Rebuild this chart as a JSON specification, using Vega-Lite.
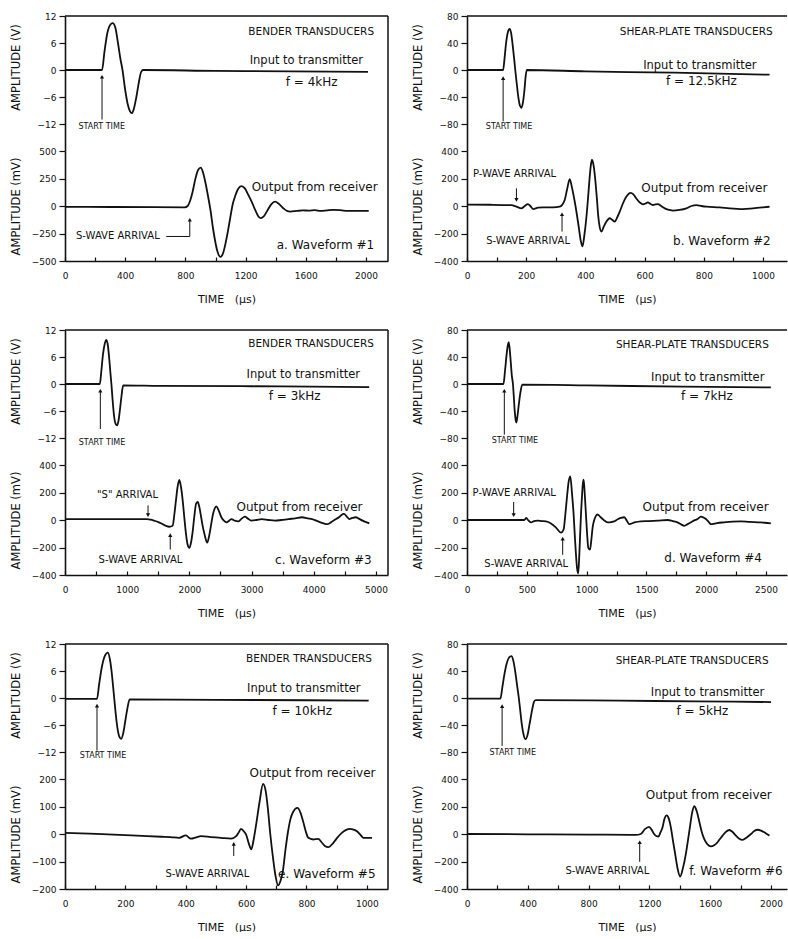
{
"$schema":"https://vega.github.io/schema/vega-lite/v6.json",
"background":"white",
"padding":{"left":9,"top":12,"right":0,"bottom":0},
"datasets":{
"wave":[
{"p":"a","s":"in","t":0,"v":0},{"p":"a","s":"in","t":246,"v":0},{"p":"a","s":"in","t":262,"v":4},{"p":"a","s":"in","t":280,"v":8},{"p":"a","s":"in","t":300,"v":10},{"p":"a","s":"in","t":317,"v":10.4},{"p":"a","s":"in","t":334,"v":9.5},{"p":"a","s":"in","t":352,"v":6},{"p":"a","s":"in","t":368,"v":2.5},{"p":"a","s":"in","t":382,"v":0},{"p":"a","s":"in","t":398,"v":-4},{"p":"a","s":"in","t":416,"v":-7.5},{"p":"a","s":"in","t":432,"v":-9.2},{"p":"a","s":"in","t":443,"v":-9.6},{"p":"a","s":"in","t":456,"v":-8.8},{"p":"a","s":"in","t":474,"v":-6},{"p":"a","s":"in","t":492,"v":-2.5},{"p":"a","s":"in","t":505,"v":-0.5},{"p":"a","s":"in","t":518,"v":0},{"p":"a","s":"in","t":1000,"v":-0.2},{"p":"a","s":"in","t":1500,"v":-0.3},{"p":"a","s":"in","t":2013,"v":-0.4},
{"p":"a","s":"out","t":0,"v":-8},{"p":"a","s":"out","t":300,"v":-9},{"p":"a","s":"out","t":600,"v":-10},{"p":"a","s":"out","t":795,"v":-12},{"p":"a","s":"out","t":815,"v":0},{"p":"a","s":"out","t":829,"v":39},{"p":"a","s":"out","t":848,"v":130},{"p":"a","s":"out","t":865,"v":240},{"p":"a","s":"out","t":885,"v":330},{"p":"a","s":"out","t":902,"v":349},{"p":"a","s":"out","t":918,"v":300},{"p":"a","s":"out","t":935,"v":200},{"p":"a","s":"out","t":951,"v":84},{"p":"a","s":"out","t":968,"v":-50},{"p":"a","s":"out","t":983,"v":-200},{"p":"a","s":"out","t":996,"v":-307},{"p":"a","s":"out","t":1012,"v":-410},{"p":"a","s":"out","t":1033,"v":-463},{"p":"a","s":"out","t":1050,"v":-430},{"p":"a","s":"out","t":1068,"v":-330},{"p":"a","s":"out","t":1084,"v":-217},{"p":"a","s":"out","t":1100,"v":-90},{"p":"a","s":"out","t":1115,"v":20},{"p":"a","s":"out","t":1129,"v":84},{"p":"a","s":"out","t":1150,"v":155},{"p":"a","s":"out","t":1173,"v":181},{"p":"a","s":"out","t":1195,"v":160},{"p":"a","s":"out","t":1218,"v":100},{"p":"a","s":"out","t":1240,"v":39},{"p":"a","s":"out","t":1265,"v":-40},{"p":"a","s":"out","t":1285,"v":-95},{"p":"a","s":"out","t":1302,"v":-111},{"p":"a","s":"out","t":1320,"v":-95},{"p":"a","s":"out","t":1345,"v":-40},{"p":"a","s":"out","t":1370,"v":15},{"p":"a","s":"out","t":1396,"v":39},{"p":"a","s":"out","t":1420,"v":20},{"p":"a","s":"out","t":1450,"v":-20},{"p":"a","s":"out","t":1475,"v":-45},{"p":"a","s":"out","t":1496,"v":-51},{"p":"a","s":"out","t":1540,"v":-45},{"p":"a","s":"out","t":1580,"v":-40},{"p":"a","s":"out","t":1620,"v":-42},{"p":"a","s":"out","t":1660,"v":-38},{"p":"a","s":"out","t":1700,"v":-45},{"p":"a","s":"out","t":1740,"v":-40},{"p":"a","s":"out","t":1780,"v":-35},{"p":"a","s":"out","t":1830,"v":-38},{"p":"a","s":"out","t":1880,"v":-45},{"p":"a","s":"out","t":1940,"v":-45},{"p":"a","s":"out","t":2018,"v":-45},
{"p":"b","s":"in","t":0,"v":0},{"p":"b","s":"in","t":122,"v":0},{"p":"b","s":"in","t":127,"v":18},{"p":"b","s":"in","t":132,"v":40},{"p":"b","s":"in","t":138,"v":56},{"p":"b","s":"in","t":144,"v":61},{"p":"b","s":"in","t":149,"v":55},{"p":"b","s":"in","t":154,"v":38},{"p":"b","s":"in","t":159,"v":18},{"p":"b","s":"in","t":163,"v":0},{"p":"b","s":"in","t":168,"v":-20},{"p":"b","s":"in","t":174,"v":-42},{"p":"b","s":"in","t":179,"v":-53},{"p":"b","s":"in","t":184,"v":-56},{"p":"b","s":"in","t":189,"v":-48},{"p":"b","s":"in","t":194,"v":-30},{"p":"b","s":"in","t":198,"v":-10},{"p":"b","s":"in","t":202,"v":0},{"p":"b","s":"in","t":400,"v":-2},{"p":"b","s":"in","t":700,"v":-4},{"p":"b","s":"in","t":1022,"v":-7},
{"p":"b","s":"out","t":0,"v":10},{"p":"b","s":"out","t":80,"v":9},{"p":"b","s":"out","t":150,"v":6},{"p":"b","s":"out","t":167,"v":-5},{"p":"b","s":"out","t":184,"v":-17},{"p":"b","s":"out","t":195,"v":0},{"p":"b","s":"out","t":206,"v":14},{"p":"b","s":"out","t":214,"v":0},{"p":"b","s":"out","t":223,"v":-22},{"p":"b","s":"out","t":240,"v":-12},{"p":"b","s":"out","t":257,"v":-10},{"p":"b","s":"out","t":291,"v":-10},{"p":"b","s":"out","t":313,"v":-5},{"p":"b","s":"out","t":322,"v":10},{"p":"b","s":"out","t":330,"v":43},{"p":"b","s":"out","t":338,"v":120},{"p":"b","s":"out","t":347,"v":195},{"p":"b","s":"out","t":355,"v":130},{"p":"b","s":"out","t":364,"v":31},{"p":"b","s":"out","t":371,"v":-60},{"p":"b","s":"out","t":378,"v":-161},{"p":"b","s":"out","t":384,"v":-250},{"p":"b","s":"out","t":390,"v":-294},{"p":"b","s":"out","t":396,"v":-220},{"p":"b","s":"out","t":403,"v":-89},{"p":"b","s":"out","t":409,"v":60},{"p":"b","s":"out","t":414,"v":200},{"p":"b","s":"out","t":418,"v":290},{"p":"b","s":"out","t":422,"v":337},{"p":"b","s":"out","t":428,"v":290},{"p":"b","s":"out","t":434,"v":176},{"p":"b","s":"out","t":439,"v":50},{"p":"b","s":"out","t":443,"v":-65},{"p":"b","s":"out","t":448,"v":-150},{"p":"b","s":"out","t":454,"v":-186},{"p":"b","s":"out","t":462,"v":-150},{"p":"b","s":"out","t":471,"v":-113},{"p":"b","s":"out","t":482,"v":-89},{"p":"b","s":"out","t":490,"v":-100},{"p":"b","s":"out","t":499,"v":-113},{"p":"b","s":"out","t":508,"v":-80},{"p":"b","s":"out","t":516,"v":-41},{"p":"b","s":"out","t":527,"v":20},{"p":"b","s":"out","t":538,"v":67},{"p":"b","s":"out","t":553,"v":96},{"p":"b","s":"out","t":562,"v":85},{"p":"b","s":"out","t":572,"v":55},{"p":"b","s":"out","t":584,"v":25},{"p":"b","s":"out","t":595,"v":12},{"p":"b","s":"out","t":603,"v":18},{"p":"b","s":"out","t":611,"v":27},{"p":"b","s":"out","t":620,"v":15},{"p":"b","s":"out","t":628,"v":7},{"p":"b","s":"out","t":637,"v":12},{"p":"b","s":"out","t":645,"v":14},{"p":"b","s":"out","t":656,"v":0},{"p":"b","s":"out","t":668,"v":-17},{"p":"b","s":"out","t":682,"v":-28},{"p":"b","s":"out","t":696,"v":-34},{"p":"b","s":"out","t":718,"v":-29},{"p":"b","s":"out","t":741,"v":-17},{"p":"b","s":"out","t":758,"v":0},{"p":"b","s":"out","t":775,"v":7},{"p":"b","s":"out","t":792,"v":0},{"p":"b","s":"out","t":809,"v":-5},{"p":"b","s":"out","t":854,"v":-10},{"p":"b","s":"out","t":887,"v":-17},{"p":"b","s":"out","t":932,"v":-22},{"p":"b","s":"out","t":966,"v":-17},{"p":"b","s":"out","t":1000,"v":-10},{"p":"b","s":"out","t":1022,"v":-5},
{"p":"c","s":"in","t":0,"v":0},{"p":"c","s":"in","t":560,"v":0},{"p":"c","s":"in","t":585,"v":3},{"p":"c","s":"in","t":610,"v":6.5},{"p":"c","s":"in","t":640,"v":9},{"p":"c","s":"in","t":665,"v":9.8},{"p":"c","s":"in","t":690,"v":8.5},{"p":"c","s":"in","t":712,"v":5.5},{"p":"c","s":"in","t":730,"v":2.5},{"p":"c","s":"in","t":746,"v":0},{"p":"c","s":"in","t":765,"v":-3.5},{"p":"c","s":"in","t":788,"v":-7},{"p":"c","s":"in","t":812,"v":-8.8},{"p":"c","s":"in","t":838,"v":-9.2},{"p":"c","s":"in","t":862,"v":-8},{"p":"c","s":"in","t":885,"v":-5.5},{"p":"c","s":"in","t":910,"v":-2.5},{"p":"c","s":"in","t":935,"v":-0.3},{"p":"c","s":"in","t":1500,"v":-0.4},{"p":"c","s":"in","t":3000,"v":-0.5},{"p":"c","s":"in","t":4890,"v":-0.7},
{"p":"c","s":"out","t":0,"v":7},{"p":"c","s":"out","t":700,"v":7},{"p":"c","s":"out","t":1324,"v":7},{"p":"c","s":"out","t":1380,"v":2},{"p":"c","s":"out","t":1432,"v":-5},{"p":"c","s":"out","t":1500,"v":-15},{"p":"c","s":"out","t":1568,"v":-30},{"p":"c","s":"out","t":1620,"v":-42},{"p":"c","s":"out","t":1676,"v":-49},{"p":"c","s":"out","t":1730,"v":-42},{"p":"c","s":"out","t":1758,"v":40},{"p":"c","s":"out","t":1784,"v":143},{"p":"c","s":"out","t":1810,"v":240},{"p":"c","s":"out","t":1838,"v":291},{"p":"c","s":"out","t":1865,"v":240},{"p":"c","s":"out","t":1892,"v":143},{"p":"c","s":"out","t":1920,"v":10},{"p":"c","s":"out","t":1946,"v":-104},{"p":"c","s":"out","t":1972,"v":-180},{"p":"c","s":"out","t":2000,"v":-203},{"p":"c","s":"out","t":2028,"v":-160},{"p":"c","s":"out","t":2054,"v":-79},{"p":"c","s":"out","t":2080,"v":30},{"p":"c","s":"out","t":2108,"v":119},{"p":"c","s":"out","t":2135,"v":131},{"p":"c","s":"out","t":2162,"v":90},{"p":"c","s":"out","t":2189,"v":20},{"p":"c","s":"out","t":2216,"v":-50},{"p":"c","s":"out","t":2243,"v":-104},{"p":"c","s":"out","t":2286,"v":-165},{"p":"c","s":"out","t":2320,"v":-110},{"p":"c","s":"out","t":2351,"v":-30},{"p":"c","s":"out","t":2378,"v":40},{"p":"c","s":"out","t":2405,"v":82},{"p":"c","s":"out","t":2432,"v":99},{"p":"c","s":"out","t":2470,"v":70},{"p":"c","s":"out","t":2514,"v":20},{"p":"c","s":"out","t":2555,"v":-5},{"p":"c","s":"out","t":2595,"v":-17},{"p":"c","s":"out","t":2640,"v":-5},{"p":"c","s":"out","t":2676,"v":7},{"p":"c","s":"out","t":2730,"v":-5},{"p":"c","s":"out","t":2784,"v":-10},{"p":"c","s":"out","t":2840,"v":10},{"p":"c","s":"out","t":2892,"v":25},{"p":"c","s":"out","t":2940,"v":10},{"p":"c","s":"out","t":3000,"v":-5},{"p":"c","s":"out","t":3080,"v":0},{"p":"c","s":"out","t":3162,"v":7},{"p":"c","s":"out","t":3270,"v":0},{"p":"c","s":"out","t":3378,"v":-5},{"p":"c","s":"out","t":3480,"v":0},{"p":"c","s":"out","t":3595,"v":7},{"p":"c","s":"out","t":3700,"v":12},{"p":"c","s":"out","t":3811,"v":20},{"p":"c","s":"out","t":3900,"v":12},{"p":"c","s":"out","t":3973,"v":7},{"p":"c","s":"out","t":4040,"v":-5},{"p":"c","s":"out","t":4108,"v":-17},{"p":"c","s":"out","t":4160,"v":-25},{"p":"c","s":"out","t":4216,"v":-30},{"p":"c","s":"out","t":4260,"v":-22},{"p":"c","s":"out","t":4297,"v":-10},{"p":"c","s":"out","t":4350,"v":5},{"p":"c","s":"out","t":4405,"v":20},{"p":"c","s":"out","t":4440,"v":35},{"p":"c","s":"out","t":4486,"v":44},{"p":"c","s":"out","t":4530,"v":25},{"p":"c","s":"out","t":4568,"v":7},{"p":"c","s":"out","t":4620,"v":15},{"p":"c","s":"out","t":4676,"v":20},{"p":"c","s":"out","t":4730,"v":8},{"p":"c","s":"out","t":4784,"v":-5},{"p":"c","s":"out","t":4840,"v":-15},{"p":"c","s":"out","t":4892,"v":-25},
{"p":"d","s":"in","t":0,"v":0},{"p":"d","s":"in","t":305,"v":0},{"p":"d","s":"in","t":318,"v":20},{"p":"d","s":"in","t":332,"v":45},{"p":"d","s":"in","t":341,"v":57},{"p":"d","s":"in","t":348,"v":62},{"p":"d","s":"in","t":355,"v":55},{"p":"d","s":"in","t":366,"v":32},{"p":"d","s":"in","t":375,"v":12},{"p":"d","s":"in","t":384,"v":0},{"p":"d","s":"in","t":391,"v":-18},{"p":"d","s":"in","t":398,"v":-38},{"p":"d","s":"in","t":405,"v":-51},{"p":"d","s":"in","t":412,"v":-57},{"p":"d","s":"in","t":420,"v":-50},{"p":"d","s":"in","t":432,"v":-32},{"p":"d","s":"in","t":447,"v":-12},{"p":"d","s":"in","t":462,"v":-1},{"p":"d","s":"in","t":1000,"v":-2},{"p":"d","s":"in","t":1800,"v":-4},{"p":"d","s":"in","t":2540,"v":-5},
{"p":"d","s":"out","t":0,"v":0},{"p":"d","s":"out","t":200,"v":0},{"p":"d","s":"out","t":400,"v":0},{"p":"d","s":"out","t":479,"v":0},{"p":"d","s":"out","t":496,"v":15},{"p":"d","s":"out","t":510,"v":0},{"p":"d","s":"out","t":535,"v":-17},{"p":"d","s":"out","t":560,"v":-8},{"p":"d","s":"out","t":590,"v":-5},{"p":"d","s":"out","t":625,"v":-8},{"p":"d","s":"out","t":660,"v":-10},{"p":"d","s":"out","t":702,"v":-25},{"p":"d","s":"out","t":744,"v":-55},{"p":"d","s":"out","t":786,"v":-92},{"p":"d","s":"out","t":808,"v":-67},{"p":"d","s":"out","t":822,"v":40},{"p":"d","s":"out","t":836,"v":169},{"p":"d","s":"out","t":850,"v":280},{"p":"d","s":"out","t":864,"v":317},{"p":"d","s":"out","t":878,"v":190},{"p":"d","s":"out","t":891,"v":45},{"p":"d","s":"out","t":901,"v":-110},{"p":"d","s":"out","t":911,"v":-253},{"p":"d","s":"out","t":920,"v":-350},{"p":"d","s":"out","t":930,"v":-389},{"p":"d","s":"out","t":939,"v":-250},{"p":"d","s":"out","t":947,"v":-79},{"p":"d","s":"out","t":954,"v":60},{"p":"d","s":"out","t":961,"v":169},{"p":"d","s":"out","t":968,"v":260},{"p":"d","s":"out","t":975,"v":293},{"p":"d","s":"out","t":985,"v":180},{"p":"d","s":"out","t":994,"v":45},{"p":"d","s":"out","t":1004,"v":-100},{"p":"d","s":"out","t":1014,"v":-203},{"p":"d","s":"out","t":1028,"v":-216},{"p":"d","s":"out","t":1040,"v":-140},{"p":"d","s":"out","t":1050,"v":-55},{"p":"d","s":"out","t":1062,"v":-5},{"p":"d","s":"out","t":1072,"v":20},{"p":"d","s":"out","t":1092,"v":40},{"p":"d","s":"out","t":1112,"v":25},{"p":"d","s":"out","t":1134,"v":7},{"p":"d","s":"out","t":1155,"v":-8},{"p":"d","s":"out","t":1175,"v":-17},{"p":"d","s":"out","t":1205,"v":-15},{"p":"d","s":"out","t":1231,"v":-10},{"p":"d","s":"out","t":1260,"v":5},{"p":"d","s":"out","t":1287,"v":15},{"p":"d","s":"out","t":1315,"v":20},{"p":"d","s":"out","t":1336,"v":-5},{"p":"d","s":"out","t":1357,"v":-30},{"p":"d","s":"out","t":1400,"v":-18},{"p":"d","s":"out","t":1454,"v":-10},{"p":"d","s":"out","t":1520,"v":-8},{"p":"d","s":"out","t":1593,"v":-5},{"p":"d","s":"out","t":1677,"v":0},{"p":"d","s":"out","t":1720,"v":-8},{"p":"d","s":"out","t":1760,"v":-17},{"p":"d","s":"out","t":1790,"v":-32},{"p":"d","s":"out","t":1816,"v":-42},{"p":"d","s":"out","t":1845,"v":-30},{"p":"d","s":"out","t":1872,"v":-17},{"p":"d","s":"out","t":1900,"v":-3},{"p":"d","s":"out","t":1928,"v":7},{"p":"d","s":"out","t":1955,"v":25},{"p":"d","s":"out","t":1977,"v":18},{"p":"d","s":"out","t":1997,"v":7},{"p":"d","s":"out","t":2018,"v":-12},{"p":"d","s":"out","t":2039,"v":-30},{"p":"d","s":"out","t":2090,"v":-22},{"p":"d","s":"out","t":2150,"v":-17},{"p":"d","s":"out","t":2220,"v":-12},{"p":"d","s":"out","t":2290,"v":-10},{"p":"d","s":"out","t":2360,"v":-14},{"p":"d","s":"out","t":2429,"v":-17},{"p":"d","s":"out","t":2490,"v":-20},{"p":"d","s":"out","t":2540,"v":-25},
{"p":"e","s":"in","t":0,"v":-0.2},{"p":"e","s":"in","t":106,"v":-0.2},{"p":"e","s":"in","t":113,"v":3},{"p":"e","s":"in","t":121,"v":6.5},{"p":"e","s":"in","t":131,"v":9.2},{"p":"e","s":"in","t":142,"v":10.1},{"p":"e","s":"in","t":149,"v":8.5},{"p":"e","s":"in","t":155,"v":5.5},{"p":"e","s":"in","t":159,"v":2.8},{"p":"e","s":"in","t":163,"v":0},{"p":"e","s":"in","t":168,"v":-3.5},{"p":"e","s":"in","t":174,"v":-6.8},{"p":"e","s":"in","t":180,"v":-8.6},{"p":"e","s":"in","t":186,"v":-9.1},{"p":"e","s":"in","t":193,"v":-7.8},{"p":"e","s":"in","t":200,"v":-5},{"p":"e","s":"in","t":207,"v":-2.2},{"p":"e","s":"in","t":214,"v":-0.3},{"p":"e","s":"in","t":500,"v":-0.4},{"p":"e","s":"in","t":800,"v":-0.5},{"p":"e","s":"in","t":1006,"v":-0.6},
{"p":"e","s":"out","t":0,"v":4},{"p":"e","s":"out","t":80,"v":1},{"p":"e","s":"out","t":161,"v":-2},{"p":"e","s":"out","t":220,"v":-5},{"p":"e","s":"out","t":272,"v":-8},{"p":"e","s":"out","t":320,"v":-10},{"p":"e","s":"out","t":350,"v":-11},{"p":"e","s":"out","t":378,"v":-14},{"p":"e","s":"out","t":400,"v":-5},{"p":"e","s":"out","t":417,"v":-17},{"p":"e","s":"out","t":435,"v":-12},{"p":"e","s":"out","t":450,"v":-8},{"p":"e","s":"out","t":483,"v":-11},{"p":"e","s":"out","t":517,"v":-14},{"p":"e","s":"out","t":550,"v":-17},{"p":"e","s":"out","t":567,"v":-8},{"p":"e","s":"out","t":575,"v":5},{"p":"e","s":"out","t":583,"v":19},{"p":"e","s":"out","t":592,"v":10},{"p":"e","s":"out","t":600,"v":-2},{"p":"e","s":"out","t":609,"v":-35},{"p":"e","s":"out","t":617,"v":-56},{"p":"e","s":"out","t":625,"v":-20},{"p":"e","s":"out","t":633,"v":33},{"p":"e","s":"out","t":645,"v":120},{"p":"e","s":"out","t":656,"v":182},{"p":"e","s":"out","t":665,"v":155},{"p":"e","s":"out","t":672,"v":93},{"p":"e","s":"out","t":680,"v":0},{"p":"e","s":"out","t":689,"v":-86},{"p":"e","s":"out","t":697,"v":-150},{"p":"e","s":"out","t":706,"v":-187},{"p":"e","s":"out","t":714,"v":-170},{"p":"e","s":"out","t":722,"v":-133},{"p":"e","s":"out","t":730,"v":-60},{"p":"e","s":"out","t":739,"v":10},{"p":"e","s":"out","t":747,"v":55},{"p":"e","s":"out","t":756,"v":81},{"p":"e","s":"out","t":770,"v":95},{"p":"e","s":"out","t":780,"v":78},{"p":"e","s":"out","t":789,"v":45},{"p":"e","s":"out","t":797,"v":12},{"p":"e","s":"out","t":806,"v":-14},{"p":"e","s":"out","t":822,"v":-20},{"p":"e","s":"out","t":839,"v":-18},{"p":"e","s":"out","t":850,"v":-30},{"p":"e","s":"out","t":861,"v":-44},{"p":"e","s":"out","t":872,"v":-48},{"p":"e","s":"out","t":889,"v":-32},{"p":"e","s":"out","t":903,"v":-12},{"p":"e","s":"out","t":917,"v":4},{"p":"e","s":"out","t":930,"v":14},{"p":"e","s":"out","t":944,"v":19},{"p":"e","s":"out","t":956,"v":16},{"p":"e","s":"out","t":967,"v":10},{"p":"e","s":"out","t":978,"v":-2},{"p":"e","s":"out","t":989,"v":-14},{"p":"e","s":"out","t":1017,"v":-14},
{"p":"f","s":"in","t":0,"v":-1},{"p":"f","s":"in","t":220,"v":-1},{"p":"f","s":"in","t":232,"v":15},{"p":"f","s":"in","t":246,"v":35},{"p":"f","s":"in","t":262,"v":52},{"p":"f","s":"in","t":277,"v":60},{"p":"f","s":"in","t":292,"v":62},{"p":"f","s":"in","t":305,"v":55},{"p":"f","s":"in","t":318,"v":38},{"p":"f","s":"in","t":330,"v":18},{"p":"f","s":"in","t":341,"v":0},{"p":"f","s":"in","t":350,"v":-18},{"p":"f","s":"in","t":360,"v":-38},{"p":"f","s":"in","t":372,"v":-54},{"p":"f","s":"in","t":385,"v":-61},{"p":"f","s":"in","t":398,"v":-55},{"p":"f","s":"in","t":412,"v":-38},{"p":"f","s":"in","t":428,"v":-18},{"p":"f","s":"in","t":440,"v":-6},{"p":"f","s":"in","t":451,"v":-3},{"p":"f","s":"in","t":1000,"v":-4},{"p":"f","s":"in","t":1500,"v":-5},{"p":"f","s":"in","t":2000,"v":-6},
{"p":"f","s":"out","t":0,"v":0},{"p":"f","s":"out","t":400,"v":-2},{"p":"f","s":"out","t":800,"v":-4},{"p":"f","s":"out","t":1110,"v":-7},{"p":"f","s":"out","t":1143,"v":0},{"p":"f","s":"out","t":1170,"v":35},{"p":"f","s":"out","t":1198,"v":52},{"p":"f","s":"out","t":1215,"v":30},{"p":"f","s":"out","t":1231,"v":0},{"p":"f","s":"out","t":1245,"v":-15},{"p":"f","s":"out","t":1259,"v":-19},{"p":"f","s":"out","t":1272,"v":10},{"p":"f","s":"out","t":1286,"v":48},{"p":"f","s":"out","t":1300,"v":115},{"p":"f","s":"out","t":1314,"v":136},{"p":"f","s":"out","t":1328,"v":110},{"p":"f","s":"out","t":1341,"v":48},{"p":"f","s":"out","t":1355,"v":-50},{"p":"f","s":"out","t":1369,"v":-143},{"p":"f","s":"out","t":1385,"v":-250},{"p":"f","s":"out","t":1402,"v":-309},{"p":"f","s":"out","t":1420,"v":-250},{"p":"f","s":"out","t":1440,"v":-143},{"p":"f","s":"out","t":1453,"v":-50},{"p":"f","s":"out","t":1466,"v":48},{"p":"f","s":"out","t":1480,"v":150},{"p":"f","s":"out","t":1495,"v":202},{"p":"f","s":"out","t":1510,"v":170},{"p":"f","s":"out","t":1527,"v":95},{"p":"f","s":"out","t":1543,"v":20},{"p":"f","s":"out","t":1560,"v":-36},{"p":"f","s":"out","t":1582,"v":-75},{"p":"f","s":"out","t":1604,"v":-90},{"p":"f","s":"out","t":1626,"v":-82},{"p":"f","s":"out","t":1648,"v":-60},{"p":"f","s":"out","t":1665,"v":-35},{"p":"f","s":"out","t":1681,"v":-12},{"p":"f","s":"out","t":1703,"v":15},{"p":"f","s":"out","t":1725,"v":29},{"p":"f","s":"out","t":1747,"v":15},{"p":"f","s":"out","t":1769,"v":-12},{"p":"f","s":"out","t":1791,"v":-35},{"p":"f","s":"out","t":1813,"v":-43},{"p":"f","s":"out","t":1840,"v":-25},{"p":"f","s":"out","t":1868,"v":0},{"p":"f","s":"out","t":1890,"v":22},{"p":"f","s":"out","t":1912,"v":31},{"p":"f","s":"out","t":1934,"v":25},{"p":"f","s":"out","t":1956,"v":12},{"p":"f","s":"out","t":1975,"v":-2},{"p":"f","s":"out","t":1989,"v":-12}
],
"arrows":[
{"p":"a","s":"in","t":246,"t2":246,"v":-11,"v2":-1.5},
{"p":"a","s":"out","t":673,"t2":829,"v":-277,"v2":-277},{"p":"a","s":"out","t":829,"t2":829,"v":-277,"v2":-125},
{"p":"b","s":"in","t":122,"t2":122,"v":-76,"v2":-12},
{"p":"b","s":"out","t":167,"t2":167,"v":128,"v2":45},{"p":"b","s":"out","t":321,"t2":321,"v":-186,"v2":-60},
{"p":"c","s":"in","t":568,"t2":568,"v":-10,"v2":-1.5},
{"p":"c","s":"out","t":1335,"t2":1335,"v":106,"v2":35},{"p":"c","s":"out","t":1692,"t2":1692,"v":-215,"v2":-110},
{"p":"d","s":"in","t":312,"t2":312,"v":-75,"v2":-10},
{"p":"d","s":"out","t":390,"t2":390,"v":131,"v2":35},{"p":"d","s":"out","t":800,"t2":800,"v":-253,"v2":-135},
{"p":"e","s":"in","t":106,"t2":106,"v":-11.7,"v2":-1.7},
{"p":"e","s":"out","t":559,"t2":559,"v":-80,"v2":-36},
{"p":"f","s":"in","t":231,"t2":231,"v":-71,"v2":-12},
{"p":"f","s":"out","t":1136,"t2":1136,"v":-202,"v2":-60}
],
"heads":[
{"p":"a","s":"in","t":246,"v":-1.5,"dir":"up"},{"p":"a","s":"out","t":829,"v":-125,"dir":"up"},
{"p":"b","s":"in","t":122,"v":-12,"dir":"up"},{"p":"b","s":"out","t":167,"v":45,"dir":"down"},{"p":"b","s":"out","t":321,"v":-60,"dir":"up"},
{"p":"c","s":"in","t":568,"v":-1.5,"dir":"up"},{"p":"c","s":"out","t":1335,"v":35,"dir":"down"},{"p":"c","s":"out","t":1692,"v":-110,"dir":"up"},
{"p":"d","s":"in","t":312,"v":-10,"dir":"up"},{"p":"d","s":"out","t":390,"v":35,"dir":"down"},{"p":"d","s":"out","t":800,"v":-135,"dir":"up"},
{"p":"e","s":"in","t":106,"v":-1.7,"dir":"up"},{"p":"e","s":"out","t":559,"v":-36,"dir":"up"},
{"p":"f","s":"in","t":231,"v":-12,"dir":"up"},{"p":"f","s":"out","t":1136,"v":-60,"dir":"up"}
],
"labels":[
{"p":"a","s":"in","t":1218,"v":8.5,"kind":"hdr","text":"BENDER TRANSDUCERS"},{"p":"a","s":"in","t":1227,"v":2.1,"kind":"inp","text":"Input to transmitter"},{"p":"a","s":"in","t":1639,"v":-2.7,"kind":"frq","text":"f = 4kHz"},{"p":"a","s":"in","t":244,"v":-12.7,"kind":"st","text":"START TIME"},
{"p":"a","s":"out","t":73,"v":-277,"kind":"ann","text":"S-WAVE ARRIVAL"},{"p":"a","s":"out","t":1240,"v":169,"kind":"out","text":"Output from receiver"},{"p":"a","s":"out","t":1407,"v":-352,"kind":"wf","text":"a. Waveform #1"},
{"p":"b","s":"in","t":516,"v":56,"kind":"hdr","text":"SHEAR-PLATE TRANSDUCERS"},{"p":"b","s":"in","t":595,"v":6.5,"kind":"inp","text":"Input to transmitter"},{"p":"b","s":"in","t":792,"v":-16,"kind":"frq","text":"f = 12.5kHz"},{"p":"b","s":"in","t":142,"v":-84,"kind":"st","text":"START TIME"},
{"p":"b","s":"out","t":20,"v":236,"kind":"ann","text":"P-WAVE ARRIVAL"},{"p":"b","s":"out","t":65,"v":-258,"kind":"ann","text":"S-WAVE ARRIVAL"},{"p":"b","s":"out","t":589,"v":133,"kind":"out","text":"Output from receiver"},{"p":"b","s":"out","t":696,"v":-258,"kind":"wf","text":"b. Waveform #2"},
{"p":"c","s":"in","t":2946,"v":8.8,"kind":"hdr","text":"BENDER TRANSDUCERS"},{"p":"c","s":"in","t":2919,"v":1.9,"kind":"inp","text":"Input to transmitter"},{"p":"c","s":"in","t":3692,"v":-2.6,"kind":"frq","text":"f = 3kHz"},{"p":"c","s":"in","t":595,"v":-13,"kind":"st","text":"START TIME"},
{"p":"c","s":"out","t":514,"v":180,"kind":"ann","text":"\"S\" ARRIVAL"},{"p":"c","s":"out","t":540,"v":-289,"kind":"ann","text":"S-WAVE ARRIVAL"},{"p":"c","s":"out","t":2757,"v":94,"kind":"out","text":"Output from receiver"},{"p":"c","s":"out","t":3378,"v":-289,"kind":"wf","text":"c. Waveform #3"},
{"p":"d","s":"in","t":1245,"v":57.5,"kind":"hdr","text":"SHEAR-PLATE TRANSDUCERS"},{"p":"d","s":"in","t":1538,"v":8.5,"kind":"inp","text":"Input to transmitter"},{"p":"d","s":"in","t":2006,"v":-18,"kind":"frq","text":"f = 7kHz"},{"p":"d","s":"in","t":401,"v":-85,"kind":"st","text":"START TIME"},
{"p":"d","s":"out","t":47,"v":193,"kind":"ann","text":"P-WAVE ARRIVAL"},{"p":"d","s":"out","t":145,"v":-322,"kind":"ann","text":"S-WAVE ARRIVAL"},{"p":"d","s":"out","t":1468,"v":94,"kind":"out","text":"Output from receiver"},{"p":"d","s":"out","t":1649,"v":-273,"kind":"wf","text":"d. Waveform #4"},
{"p":"e","s":"in","t":600,"v":8.6,"kind":"hdr","text":"BENDER TRANSDUCERS"},{"p":"e","s":"in","t":603,"v":2,"kind":"inp","text":"Input to transmitter"},{"p":"e","s":"in","t":786,"v":-2.9,"kind":"frq","text":"f = 10kHz"},{"p":"e","s":"in","t":126,"v":-12.8,"kind":"st","text":"START TIME"},
{"p":"e","s":"out","t":333,"v":-145,"kind":"ann","text":"S-WAVE ARRIVAL"},{"p":"e","s":"out","t":611,"v":221,"kind":"out","text":"Output from receiver"},{"p":"e","s":"out","t":706,"v":-145,"kind":"wf","text":"e. Waveform #5"},
{"p":"f","s":"in","t":978,"v":55,"kind":"hdr","text":"SHEAR-PLATE TRANSDUCERS"},{"p":"f","s":"in","t":1209,"v":8,"kind":"inp","text":"Input to transmitter"},{"p":"f","s":"in","t":1549,"v":-19,"kind":"frq","text":"f = 5kHz"},{"p":"f","s":"in","t":301,"v":-82,"kind":"st","text":"START TIME"},
{"p":"f","s":"out","t":648,"v":-267,"kind":"ann","text":"S-WAVE ARRIVAL"},{"p":"f","s":"out","t":1176,"v":286,"kind":"out","text":"Output from receiver"},{"p":"f","s":"out","t":1462,"v":-267,"kind":"wf","text":"f. Waveform #6"}
]
},
"spacing":22,
"vconcat":[
{"hconcat":[
{"vconcat":[
{"width":323,"height":135,"resolve":{"axis":{"x":"independent","y":"independent"}},"layer":[
{"data":{"name":"wave"},"transform":[{"filter":"datum.p=='a'&&datum.s=='in'"}],"mark":{"type":"line","color":"#111","strokeWidth":1.8,"interpolate":"monotone"},"encoding":{"x":{"field":"t","type":"quantitative","scale":{"domain":[0,2146],"nice":false,"zero":false},"axis":null},"y":{"field":"v","type":"quantitative","scale":{"domain":[-18,12],"nice":false,"zero":false},"axis":{"values":[12,6,0,-6,-12],"format":"d","labelOverlap":false,"title":"AMPLITUDE (V)","titleY":51}}}},
{"data":{"values":[{}]},"mark":{"type":"rule","color":"#111","strokeWidth":1.5},"encoding":{"y":{"datum":12,"type":"quantitative","scale":{"domain":[-18,12],"nice":false,"zero":false},"axis":null}}},
{"data":{"values":[{}]},"mark":{"type":"rule","color":"#111","strokeWidth":1.5},"encoding":{"x":{"datum":2146,"type":"quantitative","scale":{"domain":[0,2146],"nice":false,"zero":false},"axis":null}}},
{"data":{"name":"arrows"},"transform":[{"filter":"datum.p=='a'&&datum.s=='in'"}],"mark":{"type":"rule","color":"#111","strokeWidth":1},"encoding":{"x":{"field":"t","type":"quantitative","scale":{"domain":[0,2146],"nice":false,"zero":false},"axis":null},"x2":{"field":"t2"},"y":{"field":"v","type":"quantitative","scale":{"domain":[-18,12],"nice":false,"zero":false},"axis":null},"y2":{"field":"v2"}}},
{"data":{"name":"heads"},"transform":[{"filter":"datum.p=='a'&&datum.s=='in'"}],"mark":{"type":"point","filled":true,"color":"#111","size":18,"opacity":1},"encoding":{"x":{"field":"t","type":"quantitative","scale":{"domain":[0,2146],"nice":false,"zero":false},"axis":null},"y":{"field":"v","type":"quantitative","scale":{"domain":[-18,12],"nice":false,"zero":false},"axis":null},"shape":{"field":"dir","type":"nominal","scale":{"domain":["up","down"],"range":["triangle-up","triangle-down"]},"legend":null}}},
{"data":{"name":"labels"},"transform":[{"filter":"datum.p=='a'&&datum.s=='in'&&datum.kind=='hdr'"}],"mark":{"type":"text","align":"left","baseline":"middle","fontSize":10.5},"encoding":{"x":{"field":"t","type":"quantitative","scale":{"domain":[0,2146],"nice":false,"zero":false},"axis":null},"y":{"field":"v","type":"quantitative","scale":{"domain":[-18,12],"nice":false,"zero":false},"axis":null},"text":{"field":"text"}}},
{"data":{"name":"labels"},"transform":[{"filter":"datum.p=='a'&&datum.s=='in'&&datum.kind=='inp'"}],"mark":{"type":"text","align":"left","baseline":"middle","fontSize":11.5},"encoding":{"x":{"field":"t","type":"quantitative","scale":{"domain":[0,2146],"nice":false,"zero":false},"axis":null},"y":{"field":"v","type":"quantitative","scale":{"domain":[-18,12],"nice":false,"zero":false},"axis":null},"text":{"field":"text"}}},
{"data":{"name":"labels"},"transform":[{"filter":"datum.p=='a'&&datum.s=='in'&&datum.kind=='frq'"}],"mark":{"type":"text","align":"center","baseline":"middle","fontSize":12},"encoding":{"x":{"field":"t","type":"quantitative","scale":{"domain":[0,2146],"nice":false,"zero":false},"axis":null},"y":{"field":"v","type":"quantitative","scale":{"domain":[-18,12],"nice":false,"zero":false},"axis":null},"text":{"field":"text"}}},
{"data":{"name":"labels"},"transform":[{"filter":"datum.p=='a'&&datum.s=='in'&&datum.kind=='st'"}],"mark":{"type":"text","align":"center","baseline":"middle","fontSize":8},"encoding":{"x":{"field":"t","type":"quantitative","scale":{"domain":[0,2146],"nice":false,"zero":false},"axis":null},"y":{"field":"v","type":"quantitative","scale":{"domain":[-18,12],"nice":false,"zero":false},"axis":null},"text":{"field":"text"}}}
]},
{"width":323,"height":110,"resolve":{"axis":{"x":"independent","y":"independent"}},"layer":[
{"data":{"name":"wave"},"transform":[{"filter":"datum.p=='a'&&datum.s=='out'"}],"mark":{"type":"line","color":"#111","strokeWidth":1.8,"interpolate":"monotone"},"encoding":{"x":{"field":"t","type":"quantitative","scale":{"domain":[0,2146],"nice":false,"zero":false},"axis":{"values":[0,200,400,600,800,1000,1200,1400,1600,1800,2000],"format":"d","labelOverlap":false,"labelExpr":"datum.value % 400 == 0 ? datum.label : ''","title":"TIME\u00a0\u00a0\u00a0(µs)"}},"y":{"field":"v","type":"quantitative","scale":{"domain":[-500,500],"nice":false,"zero":false},"axis":{"values":[500,250,0,-250,-500],"format":"d","labelOverlap":false,"title":"AMPLITUDE (mV)"}}}},
{"data":{"values":[{}]},"mark":{"type":"rule","color":"#111","strokeWidth":1.5},"encoding":{"x":{"datum":2146,"type":"quantitative","scale":{"domain":[0,2146],"nice":false,"zero":false},"axis":null}}},
{"data":{"name":"arrows"},"transform":[{"filter":"datum.p=='a'&&datum.s=='out'"}],"mark":{"type":"rule","color":"#111","strokeWidth":1},"encoding":{"x":{"field":"t","type":"quantitative","scale":{"domain":[0,2146],"nice":false,"zero":false},"axis":null},"x2":{"field":"t2"},"y":{"field":"v","type":"quantitative","scale":{"domain":[-500,500],"nice":false,"zero":false},"axis":null},"y2":{"field":"v2"}}},
{"data":{"name":"heads"},"transform":[{"filter":"datum.p=='a'&&datum.s=='out'"}],"mark":{"type":"point","filled":true,"color":"#111","size":18,"opacity":1},"encoding":{"x":{"field":"t","type":"quantitative","scale":{"domain":[0,2146],"nice":false,"zero":false},"axis":null},"y":{"field":"v","type":"quantitative","scale":{"domain":[-500,500],"nice":false,"zero":false},"axis":null},"shape":{"field":"dir","type":"nominal","scale":{"domain":["up","down"],"range":["triangle-up","triangle-down"]},"legend":null}}},
{"data":{"name":"labels"},"transform":[{"filter":"datum.p=='a'&&datum.s=='out'&&datum.kind=='ann'"}],"mark":{"type":"text","align":"left","baseline":"middle","fontSize":10},"encoding":{"x":{"field":"t","type":"quantitative","scale":{"domain":[0,2146],"nice":false,"zero":false},"axis":null},"y":{"field":"v","type":"quantitative","scale":{"domain":[-500,500],"nice":false,"zero":false},"axis":null},"text":{"field":"text"}}},
{"data":{"name":"labels"},"transform":[{"filter":"datum.p=='a'&&datum.s=='out'&&datum.kind!='ann'"}],"mark":{"type":"text","align":"left","baseline":"middle","fontSize":12},"encoding":{"x":{"field":"t","type":"quantitative","scale":{"domain":[0,2146],"nice":false,"zero":false},"axis":null},"y":{"field":"v","type":"quantitative","scale":{"domain":[-500,500],"nice":false,"zero":false},"axis":null},"text":{"field":"text"}}}
]}
],"spacing":0,"bounds":"flush"},
{"vconcat":[
{"width":320,"height":135,"resolve":{"axis":{"x":"independent","y":"independent"}},"layer":[
{"data":{"name":"wave"},"transform":[{"filter":"datum.p=='b'&&datum.s=='in'"}],"mark":{"type":"line","color":"#111","strokeWidth":1.8,"interpolate":"monotone"},"encoding":{"x":{"field":"t","type":"quantitative","scale":{"domain":[0,1081],"nice":false,"zero":false},"axis":null},"y":{"field":"v","type":"quantitative","scale":{"domain":[-120,80],"nice":false,"zero":false},"axis":{"values":[80,40,0,-40,-80],"format":"d","labelOverlap":false,"title":"AMPLITUDE (V)","titleY":51}}}},
{"data":{"values":[{}]},"mark":{"type":"rule","color":"#111","strokeWidth":1.5},"encoding":{"y":{"datum":80,"type":"quantitative","scale":{"domain":[-120,80],"nice":false,"zero":false},"axis":null}}},
{"data":{"name":"arrows"},"transform":[{"filter":"datum.p=='b'&&datum.s=='in'"}],"mark":{"type":"rule","color":"#111","strokeWidth":1},"encoding":{"x":{"field":"t","type":"quantitative","scale":{"domain":[0,1081],"nice":false,"zero":false},"axis":null},"x2":{"field":"t2"},"y":{"field":"v","type":"quantitative","scale":{"domain":[-120,80],"nice":false,"zero":false},"axis":null},"y2":{"field":"v2"}}},
{"data":{"name":"heads"},"transform":[{"filter":"datum.p=='b'&&datum.s=='in'"}],"mark":{"type":"point","filled":true,"color":"#111","size":18,"opacity":1},"encoding":{"x":{"field":"t","type":"quantitative","scale":{"domain":[0,1081],"nice":false,"zero":false},"axis":null},"y":{"field":"v","type":"quantitative","scale":{"domain":[-120,80],"nice":false,"zero":false},"axis":null},"shape":{"field":"dir","type":"nominal","scale":{"domain":["up","down"],"range":["triangle-up","triangle-down"]},"legend":null}}},
{"data":{"name":"labels"},"transform":[{"filter":"datum.p=='b'&&datum.s=='in'&&datum.kind=='hdr'"}],"mark":{"type":"text","align":"left","baseline":"middle","fontSize":10.5},"encoding":{"x":{"field":"t","type":"quantitative","scale":{"domain":[0,1081],"nice":false,"zero":false},"axis":null},"y":{"field":"v","type":"quantitative","scale":{"domain":[-120,80],"nice":false,"zero":false},"axis":null},"text":{"field":"text"}}},
{"data":{"name":"labels"},"transform":[{"filter":"datum.p=='b'&&datum.s=='in'&&datum.kind=='inp'"}],"mark":{"type":"text","align":"left","baseline":"middle","fontSize":11.5},"encoding":{"x":{"field":"t","type":"quantitative","scale":{"domain":[0,1081],"nice":false,"zero":false},"axis":null},"y":{"field":"v","type":"quantitative","scale":{"domain":[-120,80],"nice":false,"zero":false},"axis":null},"text":{"field":"text"}}},
{"data":{"name":"labels"},"transform":[{"filter":"datum.p=='b'&&datum.s=='in'&&datum.kind=='frq'"}],"mark":{"type":"text","align":"center","baseline":"middle","fontSize":12},"encoding":{"x":{"field":"t","type":"quantitative","scale":{"domain":[0,1081],"nice":false,"zero":false},"axis":null},"y":{"field":"v","type":"quantitative","scale":{"domain":[-120,80],"nice":false,"zero":false},"axis":null},"text":{"field":"text"}}},
{"data":{"name":"labels"},"transform":[{"filter":"datum.p=='b'&&datum.s=='in'&&datum.kind=='st'"}],"mark":{"type":"text","align":"center","baseline":"middle","fontSize":8},"encoding":{"x":{"field":"t","type":"quantitative","scale":{"domain":[0,1081],"nice":false,"zero":false},"axis":null},"y":{"field":"v","type":"quantitative","scale":{"domain":[-120,80],"nice":false,"zero":false},"axis":null},"text":{"field":"text"}}}
]},
{"width":320,"height":110,"resolve":{"axis":{"x":"independent","y":"independent"}},"layer":[
{"data":{"name":"wave"},"transform":[{"filter":"datum.p=='b'&&datum.s=='out'"}],"mark":{"type":"line","color":"#111","strokeWidth":1.8,"interpolate":"monotone"},"encoding":{"x":{"field":"t","type":"quantitative","scale":{"domain":[0,1081],"nice":false,"zero":false},"axis":{"values":[0,100,200,300,400,500,600,700,800,900,1000],"format":"d","labelOverlap":false,"labelExpr":"datum.value % 200 == 0 ? datum.label : ''","title":"TIME\u00a0\u00a0\u00a0(µs)"}},"y":{"field":"v","type":"quantitative","scale":{"domain":[-400,400],"nice":false,"zero":false},"axis":{"values":[400,200,0,-200,-400],"format":"d","labelOverlap":false,"title":"AMPLITUDE (mV)"}}}},
{"data":{"name":"arrows"},"transform":[{"filter":"datum.p=='b'&&datum.s=='out'"}],"mark":{"type":"rule","color":"#111","strokeWidth":1},"encoding":{"x":{"field":"t","type":"quantitative","scale":{"domain":[0,1081],"nice":false,"zero":false},"axis":null},"x2":{"field":"t2"},"y":{"field":"v","type":"quantitative","scale":{"domain":[-400,400],"nice":false,"zero":false},"axis":null},"y2":{"field":"v2"}}},
{"data":{"name":"heads"},"transform":[{"filter":"datum.p=='b'&&datum.s=='out'"}],"mark":{"type":"point","filled":true,"color":"#111","size":18,"opacity":1},"encoding":{"x":{"field":"t","type":"quantitative","scale":{"domain":[0,1081],"nice":false,"zero":false},"axis":null},"y":{"field":"v","type":"quantitative","scale":{"domain":[-400,400],"nice":false,"zero":false},"axis":null},"shape":{"field":"dir","type":"nominal","scale":{"domain":["up","down"],"range":["triangle-up","triangle-down"]},"legend":null}}},
{"data":{"name":"labels"},"transform":[{"filter":"datum.p=='b'&&datum.s=='out'&&datum.kind=='ann'"}],"mark":{"type":"text","align":"left","baseline":"middle","fontSize":10},"encoding":{"x":{"field":"t","type":"quantitative","scale":{"domain":[0,1081],"nice":false,"zero":false},"axis":null},"y":{"field":"v","type":"quantitative","scale":{"domain":[-400,400],"nice":false,"zero":false},"axis":null},"text":{"field":"text"}}},
{"data":{"name":"labels"},"transform":[{"filter":"datum.p=='b'&&datum.s=='out'&&datum.kind!='ann'"}],"mark":{"type":"text","align":"left","baseline":"middle","fontSize":12},"encoding":{"x":{"field":"t","type":"quantitative","scale":{"domain":[0,1081],"nice":false,"zero":false},"axis":null},"y":{"field":"v","type":"quantitative","scale":{"domain":[-400,400],"nice":false,"zero":false},"axis":null},"text":{"field":"text"}}}
]}
],"spacing":0,"bounds":"flush"}
],"spacing":22},
{"hconcat":[
{"vconcat":[
{"width":323,"height":135,"resolve":{"axis":{"x":"independent","y":"independent"}},"layer":[
{"data":{"name":"wave"},"transform":[{"filter":"datum.p=='c'&&datum.s=='in'"}],"mark":{"type":"line","color":"#111","strokeWidth":1.8,"interpolate":"monotone"},"encoding":{"x":{"field":"t","type":"quantitative","scale":{"domain":[0,5193],"nice":false,"zero":false},"axis":null},"y":{"field":"v","type":"quantitative","scale":{"domain":[-18,12],"nice":false,"zero":false},"axis":{"values":[12,6,0,-6,-12],"format":"d","labelOverlap":false,"title":"AMPLITUDE (V)","titleY":51}}}},
{"data":{"values":[{}]},"mark":{"type":"rule","color":"#111","strokeWidth":1.5},"encoding":{"y":{"datum":12,"type":"quantitative","scale":{"domain":[-18,12],"nice":false,"zero":false},"axis":null}}},
{"data":{"values":[{}]},"mark":{"type":"rule","color":"#111","strokeWidth":1.5},"encoding":{"x":{"datum":5193,"type":"quantitative","scale":{"domain":[0,5193],"nice":false,"zero":false},"axis":null}}},
{"data":{"name":"arrows"},"transform":[{"filter":"datum.p=='c'&&datum.s=='in'"}],"mark":{"type":"rule","color":"#111","strokeWidth":1},"encoding":{"x":{"field":"t","type":"quantitative","scale":{"domain":[0,5193],"nice":false,"zero":false},"axis":null},"x2":{"field":"t2"},"y":{"field":"v","type":"quantitative","scale":{"domain":[-18,12],"nice":false,"zero":false},"axis":null},"y2":{"field":"v2"}}},
{"data":{"name":"heads"},"transform":[{"filter":"datum.p=='c'&&datum.s=='in'"}],"mark":{"type":"point","filled":true,"color":"#111","size":18,"opacity":1},"encoding":{"x":{"field":"t","type":"quantitative","scale":{"domain":[0,5193],"nice":false,"zero":false},"axis":null},"y":{"field":"v","type":"quantitative","scale":{"domain":[-18,12],"nice":false,"zero":false},"axis":null},"shape":{"field":"dir","type":"nominal","scale":{"domain":["up","down"],"range":["triangle-up","triangle-down"]},"legend":null}}},
{"data":{"name":"labels"},"transform":[{"filter":"datum.p=='c'&&datum.s=='in'&&datum.kind=='hdr'"}],"mark":{"type":"text","align":"left","baseline":"middle","fontSize":10.5},"encoding":{"x":{"field":"t","type":"quantitative","scale":{"domain":[0,5193],"nice":false,"zero":false},"axis":null},"y":{"field":"v","type":"quantitative","scale":{"domain":[-18,12],"nice":false,"zero":false},"axis":null},"text":{"field":"text"}}},
{"data":{"name":"labels"},"transform":[{"filter":"datum.p=='c'&&datum.s=='in'&&datum.kind=='inp'"}],"mark":{"type":"text","align":"left","baseline":"middle","fontSize":11.5},"encoding":{"x":{"field":"t","type":"quantitative","scale":{"domain":[0,5193],"nice":false,"zero":false},"axis":null},"y":{"field":"v","type":"quantitative","scale":{"domain":[-18,12],"nice":false,"zero":false},"axis":null},"text":{"field":"text"}}},
{"data":{"name":"labels"},"transform":[{"filter":"datum.p=='c'&&datum.s=='in'&&datum.kind=='frq'"}],"mark":{"type":"text","align":"center","baseline":"middle","fontSize":12},"encoding":{"x":{"field":"t","type":"quantitative","scale":{"domain":[0,5193],"nice":false,"zero":false},"axis":null},"y":{"field":"v","type":"quantitative","scale":{"domain":[-18,12],"nice":false,"zero":false},"axis":null},"text":{"field":"text"}}},
{"data":{"name":"labels"},"transform":[{"filter":"datum.p=='c'&&datum.s=='in'&&datum.kind=='st'"}],"mark":{"type":"text","align":"center","baseline":"middle","fontSize":8},"encoding":{"x":{"field":"t","type":"quantitative","scale":{"domain":[0,5193],"nice":false,"zero":false},"axis":null},"y":{"field":"v","type":"quantitative","scale":{"domain":[-18,12],"nice":false,"zero":false},"axis":null},"text":{"field":"text"}}}
]},
{"width":323,"height":110,"resolve":{"axis":{"x":"independent","y":"independent"}},"layer":[
{"data":{"name":"wave"},"transform":[{"filter":"datum.p=='c'&&datum.s=='out'"}],"mark":{"type":"line","color":"#111","strokeWidth":1.8,"interpolate":"monotone"},"encoding":{"x":{"field":"t","type":"quantitative","scale":{"domain":[0,5193],"nice":false,"zero":false},"axis":{"values":[0,500,1000,1500,2000,2500,3000,3500,4000,4500,5000],"format":"d","labelOverlap":false,"labelExpr":"datum.value % 1000 == 0 ? datum.label : ''","title":"TIME\u00a0\u00a0\u00a0(µs)"}},"y":{"field":"v","type":"quantitative","scale":{"domain":[-400,400],"nice":false,"zero":false},"axis":{"values":[400,200,0,-200,-400],"format":"d","labelOverlap":false,"title":"AMPLITUDE (mV)"}}}},
{"data":{"values":[{}]},"mark":{"type":"rule","color":"#111","strokeWidth":1.5},"encoding":{"x":{"datum":5193,"type":"quantitative","scale":{"domain":[0,5193],"nice":false,"zero":false},"axis":null}}},
{"data":{"name":"arrows"},"transform":[{"filter":"datum.p=='c'&&datum.s=='out'"}],"mark":{"type":"rule","color":"#111","strokeWidth":1},"encoding":{"x":{"field":"t","type":"quantitative","scale":{"domain":[0,5193],"nice":false,"zero":false},"axis":null},"x2":{"field":"t2"},"y":{"field":"v","type":"quantitative","scale":{"domain":[-400,400],"nice":false,"zero":false},"axis":null},"y2":{"field":"v2"}}},
{"data":{"name":"heads"},"transform":[{"filter":"datum.p=='c'&&datum.s=='out'"}],"mark":{"type":"point","filled":true,"color":"#111","size":18,"opacity":1},"encoding":{"x":{"field":"t","type":"quantitative","scale":{"domain":[0,5193],"nice":false,"zero":false},"axis":null},"y":{"field":"v","type":"quantitative","scale":{"domain":[-400,400],"nice":false,"zero":false},"axis":null},"shape":{"field":"dir","type":"nominal","scale":{"domain":["up","down"],"range":["triangle-up","triangle-down"]},"legend":null}}},
{"data":{"name":"labels"},"transform":[{"filter":"datum.p=='c'&&datum.s=='out'&&datum.kind=='ann'"}],"mark":{"type":"text","align":"left","baseline":"middle","fontSize":10},"encoding":{"x":{"field":"t","type":"quantitative","scale":{"domain":[0,5193],"nice":false,"zero":false},"axis":null},"y":{"field":"v","type":"quantitative","scale":{"domain":[-400,400],"nice":false,"zero":false},"axis":null},"text":{"field":"text"}}},
{"data":{"name":"labels"},"transform":[{"filter":"datum.p=='c'&&datum.s=='out'&&datum.kind!='ann'"}],"mark":{"type":"text","align":"left","baseline":"middle","fontSize":12},"encoding":{"x":{"field":"t","type":"quantitative","scale":{"domain":[0,5193],"nice":false,"zero":false},"axis":null},"y":{"field":"v","type":"quantitative","scale":{"domain":[-400,400],"nice":false,"zero":false},"axis":null},"text":{"field":"text"}}}
]}
],"spacing":0,"bounds":"flush"},
{"vconcat":[
{"width":320,"height":135,"resolve":{"axis":{"x":"independent","y":"independent"}},"layer":[
{"data":{"name":"wave"},"transform":[{"filter":"datum.p=='d'&&datum.s=='in'"}],"mark":{"type":"line","color":"#111","strokeWidth":1.8,"interpolate":"monotone"},"encoding":{"x":{"field":"t","type":"quantitative","scale":{"domain":[0,2675],"nice":false,"zero":false},"axis":null},"y":{"field":"v","type":"quantitative","scale":{"domain":[-120,80],"nice":false,"zero":false},"axis":{"values":[80,40,0,-40,-80],"format":"d","labelOverlap":false,"title":"AMPLITUDE (V)","titleY":51}}}},
{"data":{"values":[{}]},"mark":{"type":"rule","color":"#111","strokeWidth":1.5},"encoding":{"y":{"datum":80,"type":"quantitative","scale":{"domain":[-120,80],"nice":false,"zero":false},"axis":null}}},
{"data":{"name":"arrows"},"transform":[{"filter":"datum.p=='d'&&datum.s=='in'"}],"mark":{"type":"rule","color":"#111","strokeWidth":1},"encoding":{"x":{"field":"t","type":"quantitative","scale":{"domain":[0,2675],"nice":false,"zero":false},"axis":null},"x2":{"field":"t2"},"y":{"field":"v","type":"quantitative","scale":{"domain":[-120,80],"nice":false,"zero":false},"axis":null},"y2":{"field":"v2"}}},
{"data":{"name":"heads"},"transform":[{"filter":"datum.p=='d'&&datum.s=='in'"}],"mark":{"type":"point","filled":true,"color":"#111","size":18,"opacity":1},"encoding":{"x":{"field":"t","type":"quantitative","scale":{"domain":[0,2675],"nice":false,"zero":false},"axis":null},"y":{"field":"v","type":"quantitative","scale":{"domain":[-120,80],"nice":false,"zero":false},"axis":null},"shape":{"field":"dir","type":"nominal","scale":{"domain":["up","down"],"range":["triangle-up","triangle-down"]},"legend":null}}},
{"data":{"name":"labels"},"transform":[{"filter":"datum.p=='d'&&datum.s=='in'&&datum.kind=='hdr'"}],"mark":{"type":"text","align":"left","baseline":"middle","fontSize":10.5},"encoding":{"x":{"field":"t","type":"quantitative","scale":{"domain":[0,2675],"nice":false,"zero":false},"axis":null},"y":{"field":"v","type":"quantitative","scale":{"domain":[-120,80],"nice":false,"zero":false},"axis":null},"text":{"field":"text"}}},
{"data":{"name":"labels"},"transform":[{"filter":"datum.p=='d'&&datum.s=='in'&&datum.kind=='inp'"}],"mark":{"type":"text","align":"left","baseline":"middle","fontSize":11.5},"encoding":{"x":{"field":"t","type":"quantitative","scale":{"domain":[0,2675],"nice":false,"zero":false},"axis":null},"y":{"field":"v","type":"quantitative","scale":{"domain":[-120,80],"nice":false,"zero":false},"axis":null},"text":{"field":"text"}}},
{"data":{"name":"labels"},"transform":[{"filter":"datum.p=='d'&&datum.s=='in'&&datum.kind=='frq'"}],"mark":{"type":"text","align":"center","baseline":"middle","fontSize":12},"encoding":{"x":{"field":"t","type":"quantitative","scale":{"domain":[0,2675],"nice":false,"zero":false},"axis":null},"y":{"field":"v","type":"quantitative","scale":{"domain":[-120,80],"nice":false,"zero":false},"axis":null},"text":{"field":"text"}}},
{"data":{"name":"labels"},"transform":[{"filter":"datum.p=='d'&&datum.s=='in'&&datum.kind=='st'"}],"mark":{"type":"text","align":"center","baseline":"middle","fontSize":8},"encoding":{"x":{"field":"t","type":"quantitative","scale":{"domain":[0,2675],"nice":false,"zero":false},"axis":null},"y":{"field":"v","type":"quantitative","scale":{"domain":[-120,80],"nice":false,"zero":false},"axis":null},"text":{"field":"text"}}}
]},
{"width":320,"height":110,"resolve":{"axis":{"x":"independent","y":"independent"}},"layer":[
{"data":{"name":"wave"},"transform":[{"filter":"datum.p=='d'&&datum.s=='out'"}],"mark":{"type":"line","color":"#111","strokeWidth":1.8,"interpolate":"monotone"},"encoding":{"x":{"field":"t","type":"quantitative","scale":{"domain":[0,2675],"nice":false,"zero":false},"axis":{"values":[0,250,500,750,1000,1250,1500,1750,2000,2250,2500],"format":"d","labelOverlap":false,"labelExpr":"datum.value % 500 == 0 ? datum.label : ''","title":"TIME\u00a0\u00a0\u00a0(µs)"}},"y":{"field":"v","type":"quantitative","scale":{"domain":[-400,400],"nice":false,"zero":false},"axis":{"values":[400,200,0,-200,-400],"format":"d","labelOverlap":false,"title":"AMPLITUDE (mV)"}}}},
{"data":{"name":"arrows"},"transform":[{"filter":"datum.p=='d'&&datum.s=='out'"}],"mark":{"type":"rule","color":"#111","strokeWidth":1},"encoding":{"x":{"field":"t","type":"quantitative","scale":{"domain":[0,2675],"nice":false,"zero":false},"axis":null},"x2":{"field":"t2"},"y":{"field":"v","type":"quantitative","scale":{"domain":[-400,400],"nice":false,"zero":false},"axis":null},"y2":{"field":"v2"}}},
{"data":{"name":"heads"},"transform":[{"filter":"datum.p=='d'&&datum.s=='out'"}],"mark":{"type":"point","filled":true,"color":"#111","size":18,"opacity":1},"encoding":{"x":{"field":"t","type":"quantitative","scale":{"domain":[0,2675],"nice":false,"zero":false},"axis":null},"y":{"field":"v","type":"quantitative","scale":{"domain":[-400,400],"nice":false,"zero":false},"axis":null},"shape":{"field":"dir","type":"nominal","scale":{"domain":["up","down"],"range":["triangle-up","triangle-down"]},"legend":null}}},
{"data":{"name":"labels"},"transform":[{"filter":"datum.p=='d'&&datum.s=='out'&&datum.kind=='ann'"}],"mark":{"type":"text","align":"left","baseline":"middle","fontSize":10},"encoding":{"x":{"field":"t","type":"quantitative","scale":{"domain":[0,2675],"nice":false,"zero":false},"axis":null},"y":{"field":"v","type":"quantitative","scale":{"domain":[-400,400],"nice":false,"zero":false},"axis":null},"text":{"field":"text"}}},
{"data":{"name":"labels"},"transform":[{"filter":"datum.p=='d'&&datum.s=='out'&&datum.kind!='ann'"}],"mark":{"type":"text","align":"left","baseline":"middle","fontSize":12},"encoding":{"x":{"field":"t","type":"quantitative","scale":{"domain":[0,2675],"nice":false,"zero":false},"axis":null},"y":{"field":"v","type":"quantitative","scale":{"domain":[-400,400],"nice":false,"zero":false},"axis":null},"text":{"field":"text"}}}
]}
],"spacing":0,"bounds":"flush"}
],"spacing":22},
{"hconcat":[
{"vconcat":[
{"width":323,"height":135,"resolve":{"axis":{"x":"independent","y":"independent"}},"layer":[
{"data":{"name":"wave"},"transform":[{"filter":"datum.p=='e'&&datum.s=='in'"}],"mark":{"type":"line","color":"#111","strokeWidth":1.8,"interpolate":"monotone"},"encoding":{"x":{"field":"t","type":"quantitative","scale":{"domain":[0,1070],"nice":false,"zero":false},"axis":null},"y":{"field":"v","type":"quantitative","scale":{"domain":[-18,12],"nice":false,"zero":false},"axis":{"values":[12,6,0,-6,-12],"format":"d","labelOverlap":false,"title":"AMPLITUDE (V)","titleY":51}}}},
{"data":{"values":[{}]},"mark":{"type":"rule","color":"#111","strokeWidth":1.5},"encoding":{"y":{"datum":12,"type":"quantitative","scale":{"domain":[-18,12],"nice":false,"zero":false},"axis":null}}},
{"data":{"values":[{}]},"mark":{"type":"rule","color":"#111","strokeWidth":1.5},"encoding":{"x":{"datum":1070,"type":"quantitative","scale":{"domain":[0,1070],"nice":false,"zero":false},"axis":null}}},
{"data":{"name":"arrows"},"transform":[{"filter":"datum.p=='e'&&datum.s=='in'"}],"mark":{"type":"rule","color":"#111","strokeWidth":1},"encoding":{"x":{"field":"t","type":"quantitative","scale":{"domain":[0,1070],"nice":false,"zero":false},"axis":null},"x2":{"field":"t2"},"y":{"field":"v","type":"quantitative","scale":{"domain":[-18,12],"nice":false,"zero":false},"axis":null},"y2":{"field":"v2"}}},
{"data":{"name":"heads"},"transform":[{"filter":"datum.p=='e'&&datum.s=='in'"}],"mark":{"type":"point","filled":true,"color":"#111","size":18,"opacity":1},"encoding":{"x":{"field":"t","type":"quantitative","scale":{"domain":[0,1070],"nice":false,"zero":false},"axis":null},"y":{"field":"v","type":"quantitative","scale":{"domain":[-18,12],"nice":false,"zero":false},"axis":null},"shape":{"field":"dir","type":"nominal","scale":{"domain":["up","down"],"range":["triangle-up","triangle-down"]},"legend":null}}},
{"data":{"name":"labels"},"transform":[{"filter":"datum.p=='e'&&datum.s=='in'&&datum.kind=='hdr'"}],"mark":{"type":"text","align":"left","baseline":"middle","fontSize":10.5},"encoding":{"x":{"field":"t","type":"quantitative","scale":{"domain":[0,1070],"nice":false,"zero":false},"axis":null},"y":{"field":"v","type":"quantitative","scale":{"domain":[-18,12],"nice":false,"zero":false},"axis":null},"text":{"field":"text"}}},
{"data":{"name":"labels"},"transform":[{"filter":"datum.p=='e'&&datum.s=='in'&&datum.kind=='inp'"}],"mark":{"type":"text","align":"left","baseline":"middle","fontSize":11.5},"encoding":{"x":{"field":"t","type":"quantitative","scale":{"domain":[0,1070],"nice":false,"zero":false},"axis":null},"y":{"field":"v","type":"quantitative","scale":{"domain":[-18,12],"nice":false,"zero":false},"axis":null},"text":{"field":"text"}}},
{"data":{"name":"labels"},"transform":[{"filter":"datum.p=='e'&&datum.s=='in'&&datum.kind=='frq'"}],"mark":{"type":"text","align":"center","baseline":"middle","fontSize":12},"encoding":{"x":{"field":"t","type":"quantitative","scale":{"domain":[0,1070],"nice":false,"zero":false},"axis":null},"y":{"field":"v","type":"quantitative","scale":{"domain":[-18,12],"nice":false,"zero":false},"axis":null},"text":{"field":"text"}}},
{"data":{"name":"labels"},"transform":[{"filter":"datum.p=='e'&&datum.s=='in'&&datum.kind=='st'"}],"mark":{"type":"text","align":"center","baseline":"middle","fontSize":8},"encoding":{"x":{"field":"t","type":"quantitative","scale":{"domain":[0,1070],"nice":false,"zero":false},"axis":null},"y":{"field":"v","type":"quantitative","scale":{"domain":[-18,12],"nice":false,"zero":false},"axis":null},"text":{"field":"text"}}}
]},
{"width":323,"height":110,"resolve":{"axis":{"x":"independent","y":"independent"}},"layer":[
{"data":{"name":"wave"},"transform":[{"filter":"datum.p=='e'&&datum.s=='out'"}],"mark":{"type":"line","color":"#111","strokeWidth":1.8,"interpolate":"monotone"},"encoding":{"x":{"field":"t","type":"quantitative","scale":{"domain":[0,1070],"nice":false,"zero":false},"axis":{"values":[0,100,200,300,400,500,600,700,800,900,1000],"format":"d","labelOverlap":false,"labelExpr":"datum.value % 200 == 0 ? datum.label : ''","title":"TIME\u00a0\u00a0\u00a0(µs)"}},"y":{"field":"v","type":"quantitative","scale":{"domain":[-200,200],"nice":false,"zero":false},"axis":{"values":[200,100,0,-100,-200],"format":"d","labelOverlap":false,"title":"AMPLITUDE (mV)"}}}},
{"data":{"values":[{}]},"mark":{"type":"rule","color":"#111","strokeWidth":1.5},"encoding":{"x":{"datum":1070,"type":"quantitative","scale":{"domain":[0,1070],"nice":false,"zero":false},"axis":null}}},
{"data":{"name":"arrows"},"transform":[{"filter":"datum.p=='e'&&datum.s=='out'"}],"mark":{"type":"rule","color":"#111","strokeWidth":1},"encoding":{"x":{"field":"t","type":"quantitative","scale":{"domain":[0,1070],"nice":false,"zero":false},"axis":null},"x2":{"field":"t2"},"y":{"field":"v","type":"quantitative","scale":{"domain":[-200,200],"nice":false,"zero":false},"axis":null},"y2":{"field":"v2"}}},
{"data":{"name":"heads"},"transform":[{"filter":"datum.p=='e'&&datum.s=='out'"}],"mark":{"type":"point","filled":true,"color":"#111","size":18,"opacity":1},"encoding":{"x":{"field":"t","type":"quantitative","scale":{"domain":[0,1070],"nice":false,"zero":false},"axis":null},"y":{"field":"v","type":"quantitative","scale":{"domain":[-200,200],"nice":false,"zero":false},"axis":null},"shape":{"field":"dir","type":"nominal","scale":{"domain":["up","down"],"range":["triangle-up","triangle-down"]},"legend":null}}},
{"data":{"name":"labels"},"transform":[{"filter":"datum.p=='e'&&datum.s=='out'&&datum.kind=='ann'"}],"mark":{"type":"text","align":"left","baseline":"middle","fontSize":10},"encoding":{"x":{"field":"t","type":"quantitative","scale":{"domain":[0,1070],"nice":false,"zero":false},"axis":null},"y":{"field":"v","type":"quantitative","scale":{"domain":[-200,200],"nice":false,"zero":false},"axis":null},"text":{"field":"text"}}},
{"data":{"name":"labels"},"transform":[{"filter":"datum.p=='e'&&datum.s=='out'&&datum.kind!='ann'"}],"mark":{"type":"text","align":"left","baseline":"middle","fontSize":12},"encoding":{"x":{"field":"t","type":"quantitative","scale":{"domain":[0,1070],"nice":false,"zero":false},"axis":null},"y":{"field":"v","type":"quantitative","scale":{"domain":[-200,200],"nice":false,"zero":false},"axis":null},"text":{"field":"text"}}}
]}
],"spacing":0,"bounds":"flush"},
{"vconcat":[
{"width":320,"height":135,"resolve":{"axis":{"x":"independent","y":"independent"}},"layer":[
{"data":{"name":"wave"},"transform":[{"filter":"datum.p=='f'&&datum.s=='in'"}],"mark":{"type":"line","color":"#111","strokeWidth":1.8,"interpolate":"monotone"},"encoding":{"x":{"field":"t","type":"quantitative","scale":{"domain":[0,2105],"nice":false,"zero":false},"axis":null},"y":{"field":"v","type":"quantitative","scale":{"domain":[-120,80],"nice":false,"zero":false},"axis":{"values":[80,40,0,-40,-80],"format":"d","labelOverlap":false,"title":"AMPLITUDE (V)","titleY":51}}}},
{"data":{"values":[{}]},"mark":{"type":"rule","color":"#111","strokeWidth":1.5},"encoding":{"y":{"datum":80,"type":"quantitative","scale":{"domain":[-120,80],"nice":false,"zero":false},"axis":null}}},
{"data":{"name":"arrows"},"transform":[{"filter":"datum.p=='f'&&datum.s=='in'"}],"mark":{"type":"rule","color":"#111","strokeWidth":1},"encoding":{"x":{"field":"t","type":"quantitative","scale":{"domain":[0,2105],"nice":false,"zero":false},"axis":null},"x2":{"field":"t2"},"y":{"field":"v","type":"quantitative","scale":{"domain":[-120,80],"nice":false,"zero":false},"axis":null},"y2":{"field":"v2"}}},
{"data":{"name":"heads"},"transform":[{"filter":"datum.p=='f'&&datum.s=='in'"}],"mark":{"type":"point","filled":true,"color":"#111","size":18,"opacity":1},"encoding":{"x":{"field":"t","type":"quantitative","scale":{"domain":[0,2105],"nice":false,"zero":false},"axis":null},"y":{"field":"v","type":"quantitative","scale":{"domain":[-120,80],"nice":false,"zero":false},"axis":null},"shape":{"field":"dir","type":"nominal","scale":{"domain":["up","down"],"range":["triangle-up","triangle-down"]},"legend":null}}},
{"data":{"name":"labels"},"transform":[{"filter":"datum.p=='f'&&datum.s=='in'&&datum.kind=='hdr'"}],"mark":{"type":"text","align":"left","baseline":"middle","fontSize":10.5},"encoding":{"x":{"field":"t","type":"quantitative","scale":{"domain":[0,2105],"nice":false,"zero":false},"axis":null},"y":{"field":"v","type":"quantitative","scale":{"domain":[-120,80],"nice":false,"zero":false},"axis":null},"text":{"field":"text"}}},
{"data":{"name":"labels"},"transform":[{"filter":"datum.p=='f'&&datum.s=='in'&&datum.kind=='inp'"}],"mark":{"type":"text","align":"left","baseline":"middle","fontSize":11.5},"encoding":{"x":{"field":"t","type":"quantitative","scale":{"domain":[0,2105],"nice":false,"zero":false},"axis":null},"y":{"field":"v","type":"quantitative","scale":{"domain":[-120,80],"nice":false,"zero":false},"axis":null},"text":{"field":"text"}}},
{"data":{"name":"labels"},"transform":[{"filter":"datum.p=='f'&&datum.s=='in'&&datum.kind=='frq'"}],"mark":{"type":"text","align":"center","baseline":"middle","fontSize":12},"encoding":{"x":{"field":"t","type":"quantitative","scale":{"domain":[0,2105],"nice":false,"zero":false},"axis":null},"y":{"field":"v","type":"quantitative","scale":{"domain":[-120,80],"nice":false,"zero":false},"axis":null},"text":{"field":"text"}}},
{"data":{"name":"labels"},"transform":[{"filter":"datum.p=='f'&&datum.s=='in'&&datum.kind=='st'"}],"mark":{"type":"text","align":"center","baseline":"middle","fontSize":8},"encoding":{"x":{"field":"t","type":"quantitative","scale":{"domain":[0,2105],"nice":false,"zero":false},"axis":null},"y":{"field":"v","type":"quantitative","scale":{"domain":[-120,80],"nice":false,"zero":false},"axis":null},"text":{"field":"text"}}}
]},
{"width":320,"height":110,"resolve":{"axis":{"x":"independent","y":"independent"}},"layer":[
{"data":{"name":"wave"},"transform":[{"filter":"datum.p=='f'&&datum.s=='out'"}],"mark":{"type":"line","color":"#111","strokeWidth":1.8,"interpolate":"monotone"},"encoding":{"x":{"field":"t","type":"quantitative","scale":{"domain":[0,2105],"nice":false,"zero":false},"axis":{"values":[0,200,400,600,800,1000,1200,1400,1600,1800,2000],"format":"d","labelOverlap":false,"labelExpr":"datum.value % 400 == 0 ? datum.label : ''","title":"TIME\u00a0\u00a0\u00a0(µs)"}},"y":{"field":"v","type":"quantitative","scale":{"domain":[-400,400],"nice":false,"zero":false},"axis":{"values":[400,200,0,-200,-400],"format":"d","labelOverlap":false,"title":"AMPLITUDE (mV)"}}}},
{"data":{"name":"arrows"},"transform":[{"filter":"datum.p=='f'&&datum.s=='out'"}],"mark":{"type":"rule","color":"#111","strokeWidth":1},"encoding":{"x":{"field":"t","type":"quantitative","scale":{"domain":[0,2105],"nice":false,"zero":false},"axis":null},"x2":{"field":"t2"},"y":{"field":"v","type":"quantitative","scale":{"domain":[-400,400],"nice":false,"zero":false},"axis":null},"y2":{"field":"v2"}}},
{"data":{"name":"heads"},"transform":[{"filter":"datum.p=='f'&&datum.s=='out'"}],"mark":{"type":"point","filled":true,"color":"#111","size":18,"opacity":1},"encoding":{"x":{"field":"t","type":"quantitative","scale":{"domain":[0,2105],"nice":false,"zero":false},"axis":null},"y":{"field":"v","type":"quantitative","scale":{"domain":[-400,400],"nice":false,"zero":false},"axis":null},"shape":{"field":"dir","type":"nominal","scale":{"domain":["up","down"],"range":["triangle-up","triangle-down"]},"legend":null}}},
{"data":{"name":"labels"},"transform":[{"filter":"datum.p=='f'&&datum.s=='out'&&datum.kind=='ann'"}],"mark":{"type":"text","align":"left","baseline":"middle","fontSize":10},"encoding":{"x":{"field":"t","type":"quantitative","scale":{"domain":[0,2105],"nice":false,"zero":false},"axis":null},"y":{"field":"v","type":"quantitative","scale":{"domain":[-400,400],"nice":false,"zero":false},"axis":null},"text":{"field":"text"}}},
{"data":{"name":"labels"},"transform":[{"filter":"datum.p=='f'&&datum.s=='out'&&datum.kind!='ann'"}],"mark":{"type":"text","align":"left","baseline":"middle","fontSize":12},"encoding":{"x":{"field":"t","type":"quantitative","scale":{"domain":[0,2105],"nice":false,"zero":false},"axis":null},"y":{"field":"v","type":"quantitative","scale":{"domain":[-400,400],"nice":false,"zero":false},"axis":null},"text":{"field":"text"}}}
]}
],"spacing":0,"bounds":"flush"}
],"spacing":22}
],
"config":{
"view":{"stroke":null},
"text":{"font":"DejaVu Sans","color":"#111"},
"axis":{"grid":false,"domainColor":"#111","domainWidth":1.6,"tickColor":"#111","tickWidth":1.2,"labelFont":"DejaVu Sans","labelFontSize":9,"labelColor":"#111","labelOverlap":false,"titleFont":"DejaVu Sans","titleFontSize":11,"titleFontWeight":"normal","titleColor":"#111"},
"axisY":{"tickSize":6,"labelPadding":3,"titleX":-44,"titleFontSize":11.5},
"axisX":{"tickSize":-4,"labelPadding":14,"titlePadding":13,"titleFontSize":11,"labelFlush":false}
}
}
